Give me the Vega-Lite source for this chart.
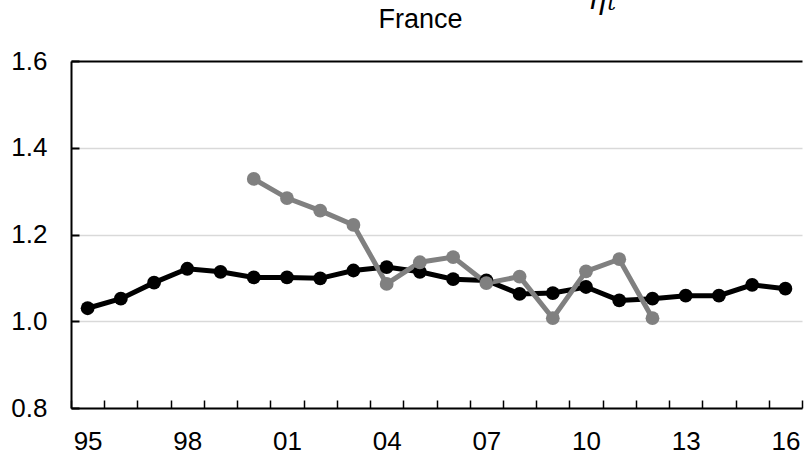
{
  "$schema": "https://vega.github.io/schema/vega-lite/v6.json",
  "width": 731,
  "height": 347,
  "autosize": "none",
  "padding": {"left": 71, "top": 61, "right": 2, "bottom": 51},
  "background": "white",
  "config": {
    "font": "Liberation Sans",
    "view": {"stroke": null}
  },
  "title": {
    "text": "France",
    "font": "Liberation Sans",
    "fontSize": 27,
    "fontWeight": "normal",
    "color": "black",
    "anchor": "middle",
    "baseline": "alphabetic",
    "offset": -70,
    "dx": -16
  },
  "datasets": {
    "ratio": [
      {"year": "95", "series": "A", "value": 1.030},
      {"year": "96", "series": "A", "value": 1.052},
      {"year": "97", "series": "A", "value": 1.089},
      {"year": "98", "series": "A", "value": 1.121},
      {"year": "99", "series": "A", "value": 1.114},
      {"year": "00", "series": "A", "value": 1.101},
      {"year": "01", "series": "A", "value": 1.101},
      {"year": "02", "series": "A", "value": 1.099},
      {"year": "03", "series": "A", "value": 1.117},
      {"year": "04", "series": "A", "value": 1.125},
      {"year": "05", "series": "A", "value": 1.114},
      {"year": "06", "series": "A", "value": 1.097},
      {"year": "07", "series": "A", "value": 1.094},
      {"year": "08", "series": "A", "value": 1.063},
      {"year": "09", "series": "A", "value": 1.065},
      {"year": "10", "series": "A", "value": 1.079},
      {"year": "11", "series": "A", "value": 1.048},
      {"year": "12", "series": "A", "value": 1.052},
      {"year": "13", "series": "A", "value": 1.059},
      {"year": "14", "series": "A", "value": 1.059},
      {"year": "15", "series": "A", "value": 1.084},
      {"year": "16", "series": "A", "value": 1.075},
      {"year": "00", "series": "B", "value": 1.328},
      {"year": "01", "series": "B", "value": 1.284},
      {"year": "02", "series": "B", "value": 1.255},
      {"year": "03", "series": "B", "value": 1.222},
      {"year": "04", "series": "B", "value": 1.086},
      {"year": "05", "series": "B", "value": 1.136},
      {"year": "06", "series": "B", "value": 1.148},
      {"year": "07", "series": "B", "value": 1.088},
      {"year": "08", "series": "B", "value": 1.103},
      {"year": "09", "series": "B", "value": 1.007},
      {"year": "10", "series": "B", "value": 1.115},
      {"year": "11", "series": "B", "value": 1.143},
      {"year": "12", "series": "B", "value": 1.007}
    ],
    "symbol": [
      {"year": "10", "value": 1.72, "part": "eta", "label": "η"},
      {"year": "11", "value": 1.717, "part": "sub", "label": "t"}
    ]
  },
  "encoding": {
    "x": {
      "field": "year",
      "type": "ordinal",
      "sort": ["95","96","97","98","99","00","01","02","03","04","05","06","07","08","09","10","11","12","13","14","15","16"],
      "scale": {"type": "band", "paddingInner": 0, "paddingOuter": 0},
      "axis": {
        "title": null,
        "labelAngle": 0,
        "labelFont": "Liberation Sans",
        "labelFontSize": 26,
        "labelColor": "black",
        "labelPadding": 28,
        "labelOverlap": false,
        "labelExpr": "indexof(['95','98','01','04','07','10','13','16'], datum.value) >= 0 ? datum.label : ''",
        "domainColor": "black",
        "domainWidth": 2,
        "tickColor": "black",
        "tickWidth": 1.5,
        "tickSize": -8,
        "tickBand": "extent",
        "grid": false
      }
    },
    "y": {
      "field": "value",
      "type": "quantitative",
      "scale": {"domain": [0.8, 1.6], "nice": false, "zero": false},
      "axis": {
        "title": null,
        "values": [0.8, 1.0, 1.2, 1.4, 1.6],
        "format": ".1f",
        "labelFont": "Liberation Sans",
        "labelFontSize": 26,
        "labelColor": "black",
        "labelPadding": 32,
        "domainColor": "black",
        "domainWidth": 2,
        "tickColor": "black",
        "tickWidth": 2,
        "tickSize": -8,
        "grid": true,
        "gridColor": {"condition": {"test": "datum.value >= 1.6", "value": "black"}, "value": "#d9d9d9"},
        "gridWidth": {"condition": {"test": "datum.value >= 1.6", "value": 2}, "value": 1.5}
      }
    }
  },
  "layer": [
    {
      "data": {"name": "ratio"},
      "mark": {"type": "line", "strokeWidth": 5},
      "encoding": {
        "color": {
          "field": "series",
          "type": "nominal",
          "scale": {"domain": ["A", "B"], "range": ["#000000", "#808080"]},
          "legend": null
        },
        "order": {"field": "series", "sort": "ascending"}
      }
    },
    {
      "data": {"name": "ratio"},
      "mark": {"type": "point", "filled": true, "opacity": 1, "size": 190},
      "encoding": {
        "color": {
          "field": "series",
          "type": "nominal",
          "scale": {"domain": ["A", "B"], "range": ["#000000", "#808080"]},
          "legend": null
        }
      }
    },
    {
      "data": {"name": "symbol"},
      "transform": [{"filter": "datum.part === 'eta'"}],
      "mark": {"type": "text", "font": "DejaVu Serif", "fontStyle": "italic", "fontSize": 30, "align": "left", "baseline": "alphabetic", "dx": 2, "color": "black"},
      "encoding": {"text": {"field": "label"}}
    },
    {
      "data": {"name": "symbol"},
      "transform": [{"filter": "datum.part === 'sub'"}],
      "mark": {"type": "text", "font": "DejaVu Serif", "fontStyle": "italic", "fontSize": 22, "align": "left", "baseline": "alphabetic", "dx": -12, "color": "black"},
      "encoding": {"text": {"field": "label"}}
    }
  ]
}
